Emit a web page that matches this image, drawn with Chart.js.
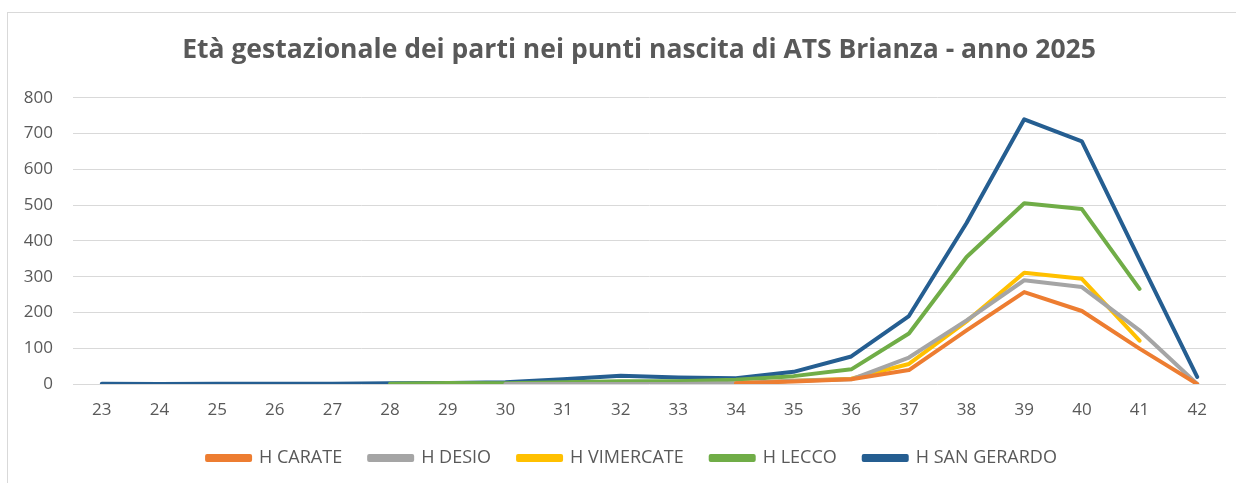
<!DOCTYPE html>
<html>
<head>
<meta charset="utf-8">
<script src="https://cdn.jsdelivr.net/npm/chart.js@4"></script>
<style>
  html, body { margin: 0; padding: 0; background: #fff; overflow: hidden; }
  #frame {
    position: absolute; left: 7px; top: 12px; width: 1240px; height: 480px;
    border-left: 1px solid #d9d9d9; border-top: 1px solid #d9d9d9;
  }
  #wrap { position: absolute; left: 0; top: 0; width: 1228px; height: 464px; }
</style>
</head>
<body>
<div id="frame"><div id="wrap"><canvas id="chart"></canvas></div></div>
<script>
// settimane di gestazione
const weeks = ['23','24','25','26','27','28','29','30','31','32','33','34','35','36','37','38','39','40','41','42'];
const yTicks = [0, 100, 200, 300, 400, 500, 600, 700, 800];

// parti per punto nascita
const hCarate     = [null,null,null,null,null,null,null,null,null,null,null,2,7,13,39,150,257,204,99,0];
const hDesio      = [null,null,null,null,null,null,null,0,0,0,0,2,9,13,74,178,290,271,150,0];
const hVimercate  = [null,null,null,null,null,null,null,null,null,null,null,2,9,15,56,175,311,294,121,null];
const hLecco      = [null,null,null,null,null,1,3,2,5,8,8,12,22,41,141,355,505,489,266,null];
const hSanGerardo = [1,0,1,1,1,2,3,5,13,23,18,16,34,77,190,450,740,678,348,20];

const textColor = '#595959';

function serie(label, data, color) {
    return {
        label: label,
        data: data,
        borderColor: color,
        backgroundColor: color,
        borderWidth: 4,
        pointRadius: 0,
        pointHoverRadius: 0,
        tension: 0,
        fill: false,
        spanGaps: false,
        borderCapStyle: 'round',
        borderJoinStyle: 'round'
    };
}

// il grafico originale è ritagliato a destra: titolo e legenda sono spostati
const shiftBlocks = {
    id: 'shiftBlocks',
    afterLayout: function(chart) {
        if (chart.titleBlock) chart.titleBlock.left += 44;
        if (chart.legend) chart.legend.left += 30;
    }
};

new Chart(document.getElementById('chart'), {
    type: 'line',
    data: {
        labels: weeks,
        datasets: [
            serie('H CARATE', hCarate, '#ed7d31'),
            serie('H DESIO', hDesio, '#a5a5a5'),
            serie('H VIMERCATE', hVimercate, '#ffc000'),
            serie('H LECCO', hLecco, '#70ad47'),
            serie('H SAN GERARDO', hSanGerardo, '#255e91')
        ]
    },
    plugins: [shiftBlocks],
    options: {
        responsive: true,
        maintainAspectRatio: false,
        animation: false,
        layout: { padding: { left: 0, right: 10, top: 0, bottom: 0 } },
        plugins: {
            title: {
                display: true,
                text: 'Età gestazionale dei parti nei punti nascita di ATS Brianza - anno 2025',
                color: textColor,
                font: { family: 'Open Sans', size: 26.5, weight: 'bold' },
                padding: { top: 22, bottom: 31 }
            },
            legend: {
                display: true,
                position: 'bottom',
                labels: {
                    color: textColor,
                    font: { family: 'Open Sans', size: 18 },
                    boxWidth: 43,
                    boxHeight: 4,
                    padding: 27
                }
            },
            tooltip: { enabled: false }
        },
        scales: {
            x: {
                offset: true,
                grid: { display: false },
                border: { display: false },
                afterFit: function(scale) { scale.height = 38; },
                ticks: {
                    color: textColor,
                    font: { family: 'Open Sans', size: 17 },
                    padding: 8,
                    maxRotation: 0,
                    autoSkip: false
                }
            },
            y: {
                min: 0,
                max: 800,
                afterBuildTicks: function(scale) {
                    scale.ticks = yTicks.map(function(v) { return { value: v }; });
                },
                afterFit: function(scale) { scale.width = 65; },
                grid: { color: '#d9d9d9', lineWidth: 1, drawTicks: false },
                border: { display: false },
                ticks: {
                    color: textColor,
                    font: { family: 'Open Sans', size: 17 },
                    padding: 20
                }
            }
        }
    }
});
</script>
</body>
</html>
